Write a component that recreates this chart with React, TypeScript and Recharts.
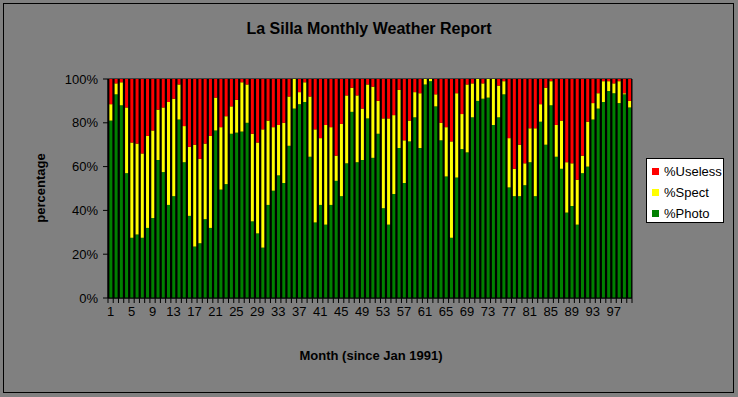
import React from "react";
import { BarChart, Bar, XAxis, YAxis, CartesianGrid } from "recharts";

const months = Array.from({ length: 100 }, (_, i) => i + 1);

const photo = [
  81, 93, 88, 57, 27.5, 29, 27.5, 32, 36.5, 63, 57.5, 42.5, 46.5, 81.5, 62, 37.5, 23.5, 25, 36, 32,
  76.5, 49.5, 52, 75, 75.5, 76, 80, 35, 29.5, 23, 42.5, 49, 56, 52.5, 69.5, 86.5, 88.5, 89.5, 64.5, 34.5,
  42.5, 33.5, 42.5, 53.5, 46.5, 61.5, 85, 62, 63, 82, 64, 75, 41, 33.5, 47.5, 68.5, 52.5, 71.5, 82.5, 68.5,
  97.5, 99, 87.5, 72, 55.5, 27.5, 55, 68, 66.5, 82.5, 90, 91, 91.5, 79, 82.5, 93, 50.5, 46.5, 46.5, 51.5,
  62, 46.5, 80.5, 70, 88, 64.5, 59, 39, 42, 33.5, 57, 60, 81.5, 86.5, 89.5, 94.5, 93.5, 89, 93, 87,
];

const spect = [
  7.5, 5, 10.5, 30, 43.5, 41.5, 38.5, 42, 40, 23, 29.5, 47, 44.5, 16, 16.5, 31.5, 46.5, 38.5, 34.5, 42,
  15, 28.5, 31, 12.5, 15, 22.5, 17.5, 40, 41.5, 54, 38.5, 29, 23, 27.5, 22.5, 13.5, 5.5, 9, 27.5, 42.5,
  30.5, 45.5, 35.5, 11.5, 33, 31, 11, 30.5, 23.5, 15.5, 32.5, 15, 41, 48.5, 36, 26.5, 19.5, 9.5, 11.5, 25,
  2.5, 1, 5.5, 8, 22.5, 44, 38.5, 16, 31, 15.5, 10, 7, 8.5, 21, 14.5, 6, 22.5, 12.5, 23.5, 10,
  15.5, 31, 8, 26, 11, 14.5, 22, 23, 19.5, 20.5, 8, 20.5, 7.5, 7, 9.5, 4.5, 4.5, 10, 0.5, 3,
];

const useless = [
  11.5, 2, 1.5, 13, 29, 29.5, 34, 26, 23.5, 14, 13, 10.5, 9, 2.5, 21.5, 31, 30, 36.5, 29.5, 26,
  8.5, 22, 17, 12.5, 9.5, 1.5, 2.5, 25, 29, 23, 19, 22, 21, 20, 8, 0, 6, 1.5, 8, 23,
  27, 21, 22, 35, 20.5, 7.5, 4, 7.5, 13.5, 2.5, 3.5, 10, 18, 18, 16.5, 5, 28, 19, 6, 6.5,
  0, 0, 7, 20, 22, 28.5, 6.5, 16, 2.5, 2, 0, 2, 0, 0, 3, 1, 27, 41, 30, 38.5,
  22.5, 22.5, 11.5, 4, 1, 21, 19, 38, 38.5, 46, 35, 19.5, 11, 6.5, 1, 1, 2, 1, 6.5, 10,
];

const yTicks = [0, 20, 40, 60, 80, 100];

const data = months.map((m, i) => ({
  month: m,
  photo: photo[i],
  spect: spect[i],
  useless: useless[i],
}));

const legendItems = [
  { label: "%Useless", color: "#ff0000" },
  { label: "%Spect", color: "#ffff00" },
  { label: "%Photo", color: "#008000" },
];

const FONT = "'Liberation Sans', Arial, sans-serif";
const BAND = 524 / 100;

function MonthTick(props: any) {
  const { x, y, payload, index } = props;
  return (
    <g>
      <line x1={x - BAND / 2} x2={x - BAND / 2} y1={y} y2={y + 5} stroke="#000" />
      {index === months.length - 1 && (
        <line x1={x + BAND / 2} x2={x + BAND / 2} y1={y} y2={y + 5} stroke="#000" />
      )}
      {index % 4 === 0 && (
        <text x={x} y={y + 18} textAnchor="middle" fill="#000" fontSize={13} fontFamily={FONT}>
          {payload.value}
        </text>
      )}
    </g>
  );
}

function LegendBox() {
  return (
    <div
      style={{
        position: "absolute",
        left: 646,
        top: 158,
        width: 78,
        height: 65,
        background: "#fff",
        border: "1px solid #000",
        boxSizing: "border-box",
        fontFamily: FONT,
        fontSize: 13,
        color: "#000",
      }}
    >
      {legendItems.map((item, i) => (
        <div
          key={item.label}
          style={{ position: "absolute", left: 5, top: 4 + i * 21, height: 16, display: "flex", alignItems: "center" }}
        >
          <span style={{ width: 7, height: 7, background: item.color, display: "inline-block", marginRight: 5 }} />
          <span style={{ whiteSpace: "nowrap" }}>{item.label}</span>
        </div>
      ))}
    </div>
  );
}

export default function App() {
  return (
    <div
      style={{
        position: "absolute",
        left: 0,
        top: 0,
        width: 738,
        height: 397,
        background: "#808080",
        fontFamily: FONT,
        overflow: "hidden",
      }}
    >
      <div
        style={{
          position: "absolute",
          left: 3,
          top: 3,
          width: 731,
          height: 390,
          border: "1px solid #000",
          boxSizing: "border-box",
        }}
      />
      <div
        style={{
          position: "absolute",
          left: 0,
          width: 738,
          top: 20,
          textAlign: "center",
          fontWeight: "bold",
          fontSize: 16,
          lineHeight: "18px",
        }}
      >
        La Silla Monthly Weather Report
      </div>
      <div
        style={{
          position: "absolute",
          left: 371,
          top: 348,
          transform: "translateX(-50%)",
          fontWeight: "bold",
          fontSize: 13,
          lineHeight: "15px",
          whiteSpace: "nowrap",
        }}
      >
        Month (since Jan 1991)
      </div>
      <div
        style={{
          position: "absolute",
          left: 40,
          top: 188,
          transform: "translate(-50%, -50%) rotate(-90deg)",
          fontWeight: "bold",
          fontSize: 13,
          lineHeight: "15px",
          whiteSpace: "nowrap",
        }}
      >
        percentage
      </div>
      <BarChart
        width={738}
        height={397}
        data={data}
        margin={{ top: 79, right: 106, left: 0, bottom: 69 }}
        barCategoryGap="26%"
      >
        <CartesianGrid fill="#000" stroke="#000" />
        <XAxis
          dataKey="month"
          height={30}
          interval={0}
          tickLine={false}
          tickSize={0}
          tickMargin={0}
          axisLine={{ stroke: "#000" }}
          tick={<MonthTick />}
        />
        <YAxis
          width={108}
          type="number"
          domain={[0, 100]}
          ticks={yTicks}
          tickFormatter={(v) => `${v}%`}
          tickSize={5}
          tickMargin={5}
          axisLine={{ stroke: "#000" }}
          tickLine={{ stroke: "#000" }}
          tick={{ fill: "#000", fontSize: 13, fontFamily: FONT }}
        />
        <Bar dataKey="photo" stackId="a" fill="#008000" isAnimationActive={false} />
        <Bar dataKey="spect" stackId="a" fill="#ffff00" isAnimationActive={false} />
        <Bar dataKey="useless" stackId="a" fill="#ff0000" isAnimationActive={false} />
      </BarChart>
      <LegendBox />
    </div>
  );
}
